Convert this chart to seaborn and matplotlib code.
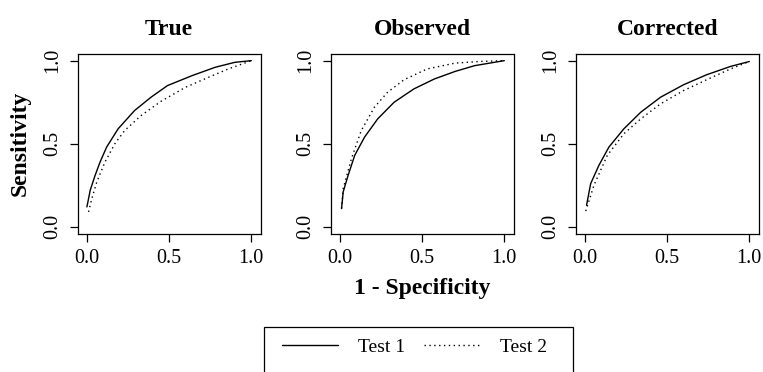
import pandas as pd
import matplotlib.pyplot as plt
import seaborn as sns
from matplotlib.patches import Rectangle
from matplotlib.lines import Line2D

# ROC curves (x = 1 - specificity, y = sensitivity)
panels = ['True', 'Observed', 'Corrected']
series = ['Test 1', 'Test 2']

true_t1_x = [0.0, 0.02, 0.05, 0.08, 0.12, 0.19, 0.29, 0.39, 0.49, 0.64, 0.78, 0.90, 1.0]
true_t1_y = [0.12, 0.22, 0.31, 0.39, 0.48, 0.59, 0.70, 0.78, 0.85, 0.91, 0.96, 0.99, 1.0]
true_t2_x = [0.01, 0.03, 0.06, 0.11, 0.17, 0.23, 0.33, 0.45, 0.60, 0.74, 0.86, 1.0]
true_t2_y = [0.09, 0.17, 0.27, 0.39, 0.50, 0.58, 0.67, 0.755, 0.84, 0.90, 0.95, 1.0]

obs_t1_x = [0.01, 0.02, 0.05, 0.09, 0.15, 0.23, 0.33, 0.45, 0.575, 0.70, 0.82, 1.0]
obs_t1_y = [0.11, 0.21, 0.31, 0.43, 0.54, 0.65, 0.75, 0.83, 0.89, 0.935, 0.97, 1.0]
obs_t2_x = [0.01, 0.02, 0.07, 0.13, 0.21, 0.29, 0.39, 0.53, 0.70, 0.85, 1.0]
obs_t2_y = [0.11, 0.23, 0.41, 0.58, 0.72, 0.81, 0.885, 0.95, 0.985, 0.995, 1.0]

cor_t1_x = [0.01, 0.035, 0.085, 0.146, 0.237, 0.34, 0.46, 0.60, 0.74, 0.885, 1.0]
cor_t1_y = [0.13, 0.26, 0.37, 0.48, 0.59, 0.69, 0.78, 0.855, 0.915, 0.965, 0.995]
cor_t2_x = [0.005, 0.055, 0.136, 0.237, 0.34, 0.46, 0.60, 0.74, 0.885, 1.0]
cor_t2_y = [0.095, 0.25, 0.43, 0.56, 0.65, 0.74, 0.82, 0.885, 0.95, 0.995]

curves = {
    'True': [(true_t1_x, true_t1_y), (true_t2_x, true_t2_y)],
    'Observed': [(obs_t1_x, obs_t1_y), (obs_t2_x, obs_t2_y)],
    'Corrected': [(cor_t1_x, cor_t1_y), (cor_t2_x, cor_t2_y)],
}
ticks = [0.0, 0.5, 1.0]
tick_labels = ['0.0', '0.5', '1.0']

sns.set_style('white')
plt.rcParams['font.family'] = ['Liberation Serif', 'DejaVu Serif']
plt.rcParams['axes.linewidth'] = 0.9
for key in ['text.color', 'axes.labelcolor', 'xtick.color', 'ytick.color',
            'axes.edgecolor', 'axes.titlecolor']:
    plt.rcParams[key] = 'black'

W, H = 763, 372
fig = plt.figure(figsize=(W / 100, H / 100), dpi=100)

lefts = [77.7, 330.7, 575.7]
top, bottom, width = 54.0, 233.5, 183.0
styles = ['-', (0, (1, 2.5))]

axes = []
for left, name in zip(lefts, panels):
    ax = fig.add_axes([left / W, 1 - bottom / H, width / W, (bottom - top) / H])
    for (xs, ys), ls, lab in zip(curves[name], styles, series):
        df = pd.DataFrame({'x': xs, 'y': ys})
        sns.lineplot(data=df, x='x', y='y', ax=ax, color='black', linewidth=1.0,
                     linestyle=ls, estimator=None, sort=False)
    ax.set_xlim(-0.056, 1.057)
    ax.set_ylim(-0.04, 1.04)
    ax.set_xticks(ticks)
    ax.set_xticklabels(tick_labels)
    ax.set_yticks(ticks)
    ax.set_yticklabels(tick_labels, rotation=90, va='center')
    ax.tick_params(direction='out', length=6, width=0.9, pad=5, labelsize=14.5,
                   bottom=True, left=True, colors='black')
    ax.set_xlabel('')
    ax.set_ylabel('')
    ax.set_title(name, fontsize=17, fontweight='bold', pad=14, color='black')
    axes.append(ax)

axes[0].set_ylabel('Sensitivity', fontsize=17, fontweight='bold', va='center')
axes[0].yaxis.set_label_coords(-0.315, 0.5)
axes[1].set_xlabel('1 - Specificity', fontsize=17, fontweight='bold', va='center')
axes[1].xaxis.set_label_coords(0.5, -0.305)

# legend box (bottom edge runs off the canvas as in the original)
fig.patches.append(Rectangle((264 / W, 1 - 390 / H), (573 - 264) / W, (390 - 327) / H,
                             transform=fig.transFigure, fill=False,
                             edgecolor='black', linewidth=0.9))
handles = [Line2D([], [], color='black', linewidth=1.0, linestyle=ls) for ls in styles]
fig.legend(handles, series, loc='center left', bbox_to_anchor=(282 / W, 1 - 347 / H),
           ncol=2, frameon=False, fontsize=14, handlelength=2.9, handletextpad=1.0,
           columnspacing=1.0, borderpad=0, borderaxespad=0, labelcolor='black')

fig.savefig('out.png', dpi=100)
